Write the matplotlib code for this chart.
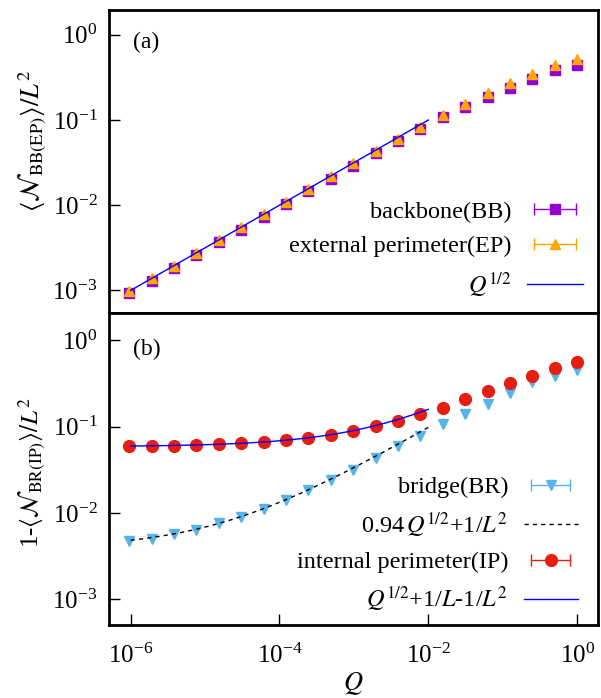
import numpy as np
import matplotlib
matplotlib.use("Agg")
import matplotlib.pyplot as plt
from matplotlib.lines import Line2D
from matplotlib.legend_handler import HandlerLine2D, HandlerTuple
from matplotlib.ticker import FixedLocator, NullLocator, LogFormatterSciNotation

plt.rcParams['font.family'] = ['Liberation Serif', 'DejaVu Serif']
plt.rcParams['mathtext.fontset'] = 'stix'
plt.rcParams['font.size'] = 15

# data
exponents = list(range(-20, 1))  # Q = 2^n
Q = [2.0 ** n for n in exponents]

bb = [9.2e-4, 1.30e-3, 1.83e-3, 2.58e-3, 3.65e-3, 5.15e-3, 7.3e-3, 1.03e-2, 1.45e-2,
      2.05e-2, 2.9e-2, 4.1e-2, 5.6e-2, 7.8e-2, 0.108, 0.144, 0.188, 0.24, 0.303, 0.387, 0.44]
ep = [9.8e-4, 1.38e-3, 1.95e-3, 2.75e-3, 3.9e-3, 5.5e-3, 7.8e-3, 1.1e-2, 1.55e-2,
      2.2e-2, 3.1e-2, 4.35e-2, 0.0593, 0.083, 0.115, 0.155, 0.206, 0.27, 0.348, 0.444, 0.52]
br = [0.0048, 0.0050, 0.0057, 0.00645, 0.00758, 0.00906, 0.0111, 0.0141, 0.0184,
      0.0244, 0.0318, 0.0435, 0.0593, 0.0788, 0.1067, 0.1416, 0.185, 0.248, 0.324, 0.39, 0.457]
ip = [0.0590, 0.0595, 0.0602, 0.0610, 0.0622, 0.0638, 0.0662, 0.0695, 0.0740,
      0.0805, 0.0895, 0.1025, 0.1155, 0.139, 0.166, 0.206, 0.257, 0.318, 0.39, 0.474, 0.561]

x_ticks = [1e-6, 1e-4, 1e-2, 1e0]
y_ticks = [1e-3, 1e-2, 1e-1, 1e0]

L = 16
coef_br = 0.94
fit_range = [1e-6, 1e-2]
qfit = np.logspace(np.log10(fit_range[0]), np.log10(fit_range[1]), 200)

c_bb = '#9400d3'
c_ep = '#ffa500'
c_br = '#56b4e9'
c_ip = '#e51e10'
c_line = '#0000ff'

fig = plt.figure(figsize=(6.01, 6.98), dpi=100)
ax1 = fig.add_axes([0.181, 0.551, 0.814, 0.435])
ax2 = fig.add_axes([0.181, 0.104, 0.814, 0.447])

xlim = (10 ** -6.294, 10 ** 0.28)

# panel (a)
ax1.plot(Q, bb, 's', color=c_bb, ms=7.5, mec=c_bb, zorder=3)
ax1.plot(Q, ep, '^', color=c_ep, ms=7, mec=c_ep, zorder=4)
ax1.plot(qfit, np.sqrt(qfit), '-', color=c_line, lw=1.0, zorder=5)

# panel (b)
ax2.plot(Q, br, 'v', color=c_br, ms=7, mec=c_br, zorder=3)
ax2.plot(qfit, coef_br * np.sqrt(qfit) + 1.0 / L ** 2, linestyle=(0, (3, 3)), color='black', lw=1.0, zorder=4)
ax2.plot(Q, ip, 'o', color=c_ip, ms=8.5, mec=c_ip, zorder=5)
ax2.plot(qfit, np.sqrt(qfit) + 1.0 / L - 1.0 / L ** 2, '-', color=c_line, lw=1.0, zorder=6)

for ax in (ax1, ax2):
    ax.set_xscale('log')
    ax.set_yscale('log')
    ax.set_xlim(*xlim)
    ax.yaxis.set_major_locator(FixedLocator(y_ticks))
    ax.xaxis.set_major_locator(FixedLocator(x_ticks))
    ax.yaxis.set_major_formatter(LogFormatterSciNotation())
    ax.xaxis.set_major_formatter(LogFormatterSciNotation())
    ax.yaxis.set_minor_locator(NullLocator())
    ax.xaxis.set_minor_locator(NullLocator())
    ax.tick_params(axis='both', which='major', direction='in', length=8, width=1,
                   labelsize=18, top=False, right=False, pad=8)
    for s in ax.spines.values():
        s.set_linewidth(2)

ax1.set_ylim(10 ** -3.27, 10 ** 0.294)
ax2.set_ylim(10 ** -3.3, 10 ** 0.31)

ax2.tick_params(axis='x', pad=13)
ax1.tick_params(axis='x', bottom=False, labelbottom=False)

ax1.set_ylabel(r'$\langle\mathcal{N}_{\rm BB(EP)}\rangle/L^2$', fontsize=19)
ax2.set_ylabel(r'1-$\langle\mathcal{N}_{\rm BR(IP)}\rangle/L^2$', fontsize=18)
ax1.yaxis.set_label_coords(-0.125, 0.567)
ax2.yaxis.set_label_coords(-0.127, 0.49)
ax2.set_xlabel(r'$Q$', fontsize=19, labelpad=2)

ax1.text(0.049, 0.893, '(a)', transform=ax1.transAxes, fontsize=17, va='center')
ax2.text(0.049, 0.885, '(b)', transform=ax2.transAxes, fontsize=17, va='center')

def eb_handle(color, marker, ms):
    caps = Line2D([], [], color=color, lw=1.0, marker='|', ms=9, mew=1.0)
    mk = Line2D([], [], color=color, lw=0, marker=marker, ms=ms, mec=color)
    return (caps, mk), caps

hm = {}
h_bb, cap = eb_handle(c_bb, 's', 7.5); hm[cap] = HandlerLine2D(numpoints=2)
h_ep, cap = eb_handle(c_ep, '^', 7); hm[cap] = HandlerLine2D(numpoints=2)
h_q = Line2D([], [], color=c_line, lw=1.0)
hm[tuple] = HandlerTuple(ndivide=1, pad=0)

ax1.legend([h_bb, h_ep, h_q], ['backbone(BB)', 'external perimeter(EP)', r'$Q^{1/2}$'],
           loc='lower right', frameon=False, markerfirst=False, handlelength=2.3,
           labelspacing=0.52, fontsize=17.5, handler_map=hm, numpoints=1,
           bbox_to_anchor=(1.014, -0.027), handletextpad=0.66)

hm2 = {}
h_br, cap = eb_handle(c_br, 'v', 7); hm2[cap] = HandlerLine2D(numpoints=2)
h_ip, cap = eb_handle(c_ip, 'o', 8.5); hm2[cap] = HandlerLine2D(numpoints=2)
h_dash = Line2D([], [], color='black', lw=1.0, linestyle=(0, (3, 3)))
h_line = Line2D([], [], color=c_line, lw=1.0)
hm2[tuple] = HandlerTuple(ndivide=1, pad=0)

ax2.legend([h_br, h_dash, h_ip, h_line],
           ['bridge(BR)', r'0.94$\,Q^{1/2}$+1/$L^2$', 'internal perimeter(IP)', r'$Q^{1/2}$+1/$L$-1/$L^2$'],
           loc='lower right', frameon=False, markerfirst=False, handlelength=2.2,
           labelspacing=0.48, fontsize=17.5, handler_map=hm2, numpoints=1,
           bbox_to_anchor=(1.003, -0.035), handletextpad=0.66)

fig.savefig('out.png', dpi=100)
